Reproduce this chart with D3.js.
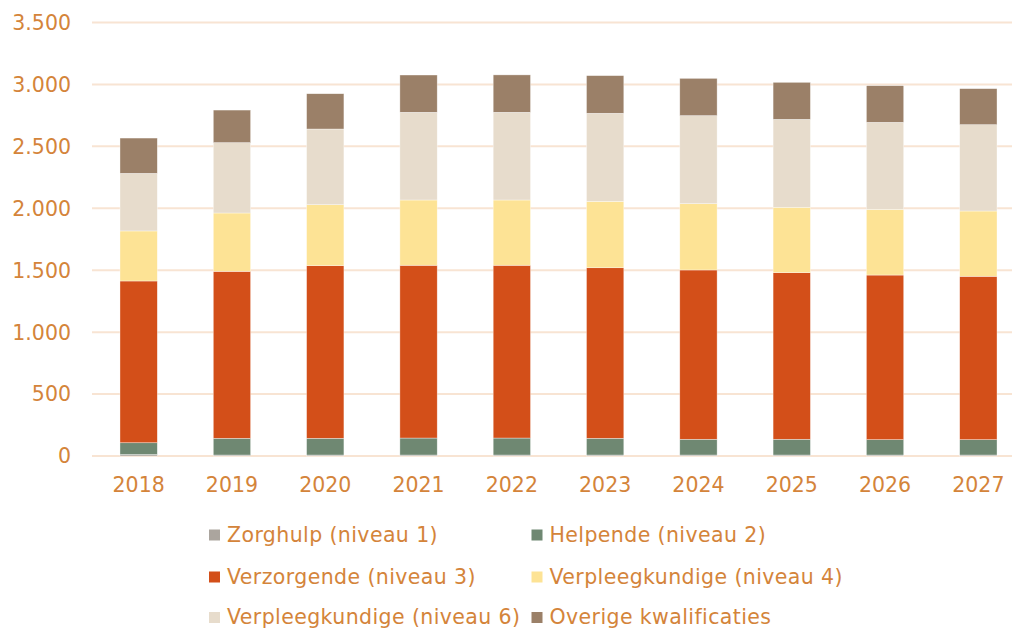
<!DOCTYPE html>
<html><head><meta charset="utf-8">
<script src="https://cdn.jsdelivr.net/npm/d3@7/dist/d3.min.js"></script>
<style>
html,body{margin:0;padding:0;background:#fff;overflow:hidden}
text{font-family:"DejaVu Sans",Verdana,sans-serif;fill:#D4843A}
</style></head>
<body><svg id="c" width="1012" height="629"></svg>
<script>
const years = ["2018","2019","2020","2021","2022","2023","2024","2025","2026","2027"];
const seriesNames = ["Zorghulp (niveau 1)","Helpende (niveau 2)","Verzorgende (niveau 3)","Verpleegkundige (niveau 4)","Verpleegkundige (niveau 6)","Overige kwalificaties"];
const colors = ["#ABA59E","#6F8872","#D34F19","#FDE395","#E7DCCC","#9B8068"];
const zorghulp      = [12, 8, 8, 8, 8, 8, 8, 8, 8, 8];
const helpende      = [95, 135, 135, 137, 137, 135, 127, 127, 124, 124];
const verzorgende   = [1306, 1348, 1394, 1395, 1395, 1377, 1367, 1345, 1329, 1319];
const verpleeg4     = [404, 471, 492, 527, 527, 536, 535, 528, 530, 527];
const verpleeg6     = [465, 568, 611, 708, 708, 711, 711, 710, 703, 697];
const overige       = [285, 263, 285, 301, 302, 304, 301, 299, 296, 291];
const yTicks = [0,500,1000,1500,2000,2500,3000,3500];
const yTickLabels = ["0","500","1.000","1.500","2.000","2.500","3.000","3.500"];

const allSeries = [zorghulp, helpende, verzorgende, verpleeg4, verpleeg6, overige];
const rows = years.map((y,i)=>{const o={year:y}; seriesNames.forEach((s,k)=>o[s]=allSeries[k][i]); return o;});
const stack = d3.stack().keys(seriesNames)(rows);

const svg = d3.select("#c");
const x = d3.scaleBand().domain(years).range([92,1025]).paddingInner(0.6).paddingOuter(0.3);
const y = d3.scaleLinear().domain([0,3500]).range([456,22.5]);

// gridlines
svg.append("g").selectAll("line").data(yTicks).join("line")
  .attr("x1",92).attr("x2",1012)
  .attr("y1",d=>y(d)).attr("y2",d=>y(d))
  .attr("stroke","#F8E4D3").attr("stroke-width",2);

// y labels
svg.append("g").selectAll("text").data(yTicks).join("text")
  .attr("x",71).attr("y",d=>y(d)).attr("dy","0.36em")
  .attr("text-anchor","end").attr("font-size",20.5)
  .text((d,i)=>yTickLabels[i]);

// bars
svg.append("g").selectAll("g").data(stack).join("g")
  .attr("fill",(d,i)=>colors[i])
  .selectAll("rect").data(d=>d).join("rect")
  .attr("x",d=>x(d.data.year)).attr("width",x.bandwidth())
  .attr("y",d=>y(d[1])).attr("height",d=>Math.max(0,y(d[0])-y(d[1])))
  .attr("stroke","#fff").attr("stroke-width",0.6).attr("stroke-opacity",0.6);

// x labels
svg.append("g").selectAll("text").data(years).join("text")
  .attr("x",d=>x(d)+x.bandwidth()/2).attr("y",492)
  .attr("text-anchor","middle").attr("font-size",20.5)
  .text(d=>d);

// legend
const legPos = [[209,535],[531.5,535],[209,577],[531.5,577],[209,617.5],[531.5,617.5]];
const leg = svg.append("g").selectAll("g").data(seriesNames).join("g")
  .attr("transform",(d,i)=>`translate(${legPos[i][0]},${legPos[i][1]})`);
leg.append("rect").attr("x",0).attr("y",-5.5).attr("width",11).attr("height",11).attr("fill",(d,i)=>colors[i]);
leg.append("text").attr("x",18).attr("y",-0.5).attr("dy","0.36em").attr("font-size",20.5)
  .attr("letter-spacing","0.4px").text(d=>d);
</script></body></html>
